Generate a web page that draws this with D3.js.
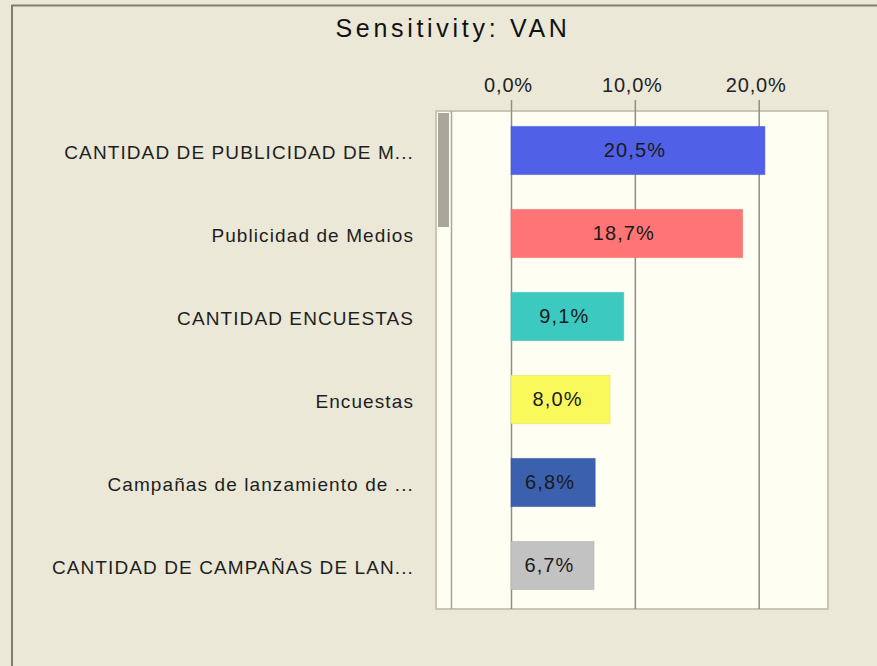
<!DOCTYPE html>
<html>
<head>
<meta charset="utf-8">
<script src="https://cdn.jsdelivr.net/npm/d3@7"></script>
<style>
    html, body { margin: 0; padding: 0; background: #ebe8d8; }
    svg { display: block; font-family: "Liberation Sans", Arial, sans-serif; }
</style>
</head>
<body>
<div id="chart"></div>
<script>
// Chart data
const chartTitle = "Sensitivity: VAN";
const factors = [
    "CANTIDAD DE PUBLICIDAD DE M...",
    "Publicidad de Medios",
    "CANTIDAD ENCUESTAS",
    "Encuestas",
    "Campañas de lanzamiento de ...",
    "CANTIDAD DE CAMPAÑAS DE LAN..."
];
const sensitivity = [20.5, 18.7, 9.1, 8.0, 6.8, 6.7];
const barColors = ["#5061e8", "#ff7575", "#3cc9c0", "#f9f95c", "#3b60ad", "#c2c2c2"];
const tickValues = [0, 10, 20];

// Dimensions
const width = 877;
const height = 666;
const box = { left: 436, right: 828, top: 111, bottom: 609 };

const locale = d3.formatLocale({ decimal: ",", thousands: ".", grouping: [3], currency: ["", "€"] });
const fmt = v => locale.format(".1f")(v) + "%";

const svg = d3.select('#chart')
    .append('svg')
    .attr('width', width)
    .attr('height', height);

// Frame around the window
svg.append('rect')
    .attr('x', 0).attr('y', 0)
    .attr('width', width).attr('height', height)
    .attr('fill', '#ebe8d8');
svg.append('line')
    .attr('x1', 11).attr('x2', width)
    .attr('y1', 5.5).attr('y2', 5.5)
    .attr('stroke', '#7f7d6e').attr('stroke-width', 2);
svg.append('line')
    .attr('x1', 12).attr('x2', 12)
    .attr('y1', 5).attr('y2', height)
    .attr('stroke', '#7f7d6e').attr('stroke-width', 2);

// Title
svg.append('text')
    .attr('x', 453)
    .attr('y', 37)
    .attr('text-anchor', 'middle')
    .attr('font-size', 25)
    .style('letter-spacing', '3.7px')
    .attr('fill', '#111')
    .text(chartTitle);

// Scales
const xScale = d3.scaleLinear()
    .domain([0, 20])
    .range([511, 758.7]);
const yScale = d3.scaleBand()
    .domain(factors)
    .range([109, 607])
    .paddingInner(0.42)
    .paddingOuter(0.21);

// Plot box
svg.append('rect')
    .attr('x', box.left)
    .attr('y', box.top)
    .attr('width', box.right - box.left)
    .attr('height', box.bottom - box.top)
    .attr('fill', '#fefef3')
    .attr('stroke', '#c9c6b8')
    .attr('stroke-width', 2);

// Scroll bar on the left of the box
svg.append('line')
    .attr('x1', 451.5).attr('x2', 451.5)
    .attr('y1', box.top).attr('y2', box.bottom)
    .attr('stroke', '#aaa89c').attr('stroke-width', 1.5);
svg.append('rect')
    .attr('x', 438)
    .attr('y', 113)
    .attr('width', 11)
    .attr('height', 114)
    .attr('fill', '#a9a79b');

// Gridlines and tick labels
const xAxis = d3.axisTop(xScale)
    .tickValues(tickValues)
    .tickFormat(fmt)
    .tickSize(-(box.bottom - 100))
    .tickPadding(8);

const axisG = svg.append('g')
    .attr('class', 'x-axis')
    .attr('transform', 'translate(0, 100)')
    .call(xAxis);
axisG.select('.domain').remove();
axisG.selectAll('.tick line')
    .attr('stroke', '#8e8e8e')
    .attr('stroke-width', 1.5);
axisG.selectAll('.tick text')
    .attr('y', -8)
    .attr('dy', 0)
    .attr('x', -3)
    .attr('font-size', 20)
    .attr('font-family', '"Liberation Sans", Arial, sans-serif')
    .style('letter-spacing', '0.8px')
    .attr('fill', '#222');

// Category labels
svg.selectAll('.factor-label')
    .data(factors)
    .enter()
    .append('text')
    .attr('class', 'factor-label')
    .attr('x', 414)
    .attr('y', d => yScale(d) + yScale.bandwidth() / 2 + 8)
    .attr('text-anchor', 'end')
    .attr('font-size', 19)
    .style('letter-spacing', '1.1px')
    .attr('fill', '#1e1e1e')
    .text(d => d);

// Bars
const rows = factors.map((f, i) => ({ factor: f, value: sensitivity[i], color: barColors[i] }));

svg.selectAll('.bar')
    .data(rows)
    .enter()
    .append('rect')
    .attr('class', 'bar')
    .attr('x', xScale(0))
    .attr('y', d => yScale(d.factor))
    .attr('width', d => xScale(d.value) - xScale(0))
    .attr('height', yScale.bandwidth())
    .attr('fill', d => d.color)
    .attr('stroke', d => d3.color(d.color).darker(0.3))
    .attr('stroke-opacity', 0.5)
    .attr('stroke-width', 1);

// Value labels inside the bars
svg.selectAll('.bar-label')
    .data(rows)
    .enter()
    .append('text')
    .attr('class', 'bar-label')
    .attr('x', d => (xScale(0) + xScale(d.value)) / 2 - 3)
    .attr('y', d => yScale(d.factor) + yScale.bandwidth() / 2 + 6)
    .attr('text-anchor', 'middle')
    .attr('font-size', 20)
    .style('letter-spacing', '1.1px')
    .attr('fill', '#1a1a1a')
    .text(d => fmt(d.value));
</script>
</body>
</html>
